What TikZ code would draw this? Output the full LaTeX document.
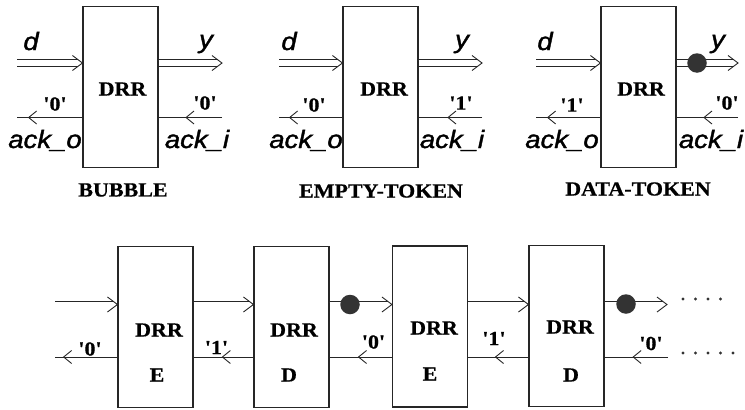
\documentclass[tikz,border=0pt]{standalone}
\usepackage{fontspec}
\setmainfont{Liberation Serif}
\newfontfamily\labfont{Liberation Serif}[FakeBold=0.6]
\newfontfamily\sigfont{Liberation Sans}[FakeBold=1.4]
\usetikzlibrary{arrows.meta,decorations.markings,calc}

\newcommand\wtxt[1]{\scalebox{1.1}[1]{#1}}
% double (bus) connector with an open chevron at its end
\newcommand\dlink[2]{%
  \draw[dshaft] (#1) -- (#2);
  \draw[chev] ([shift={(-10,-7.5)}]#2) -- (#2) -- ([shift={(-10,7.5)}]#2);}

\tikzset{
  x=1pt, y=-1pt,
  unit/.style={draw=black!85, line width=1.1pt, minimum width=75pt,
    minimum height=161pt, inner sep=0pt},
  title/.style={font=\labfont\bfseries\fontsize{20}{20}\selectfont, inner sep=0pt},
  sig/.style={font=\sigfont\itshape\fontsize{25}{25}\selectfont, inner sep=0pt, anchor=base},
  bit/.style={font=\labfont\bfseries\fontsize{20}{20}\selectfont, inner sep=0pt},
  dshaft/.style={draw=black!85, double=white, double distance=6pt,
    line width=0.9pt, shorten >=4pt},
  chev/.style={draw=black!85, line width=0.9pt},
  acklink/.style={draw=black!85, line width=0.9pt, postaction={decorate},
    decoration={markings, mark=at position #1 with
      {\arrow{Straight Barb[length=8pt,width=13pt,line width=0.9pt]}}}},
  token/.style={circle, fill=black!80, minimum size=19.5pt, inner sep=0pt},
  dotm/.style={circle, fill=black!80, minimum size=3.2pt, inner sep=0pt},
}

\begin{document}
\begin{tikzpicture}
\useasboundingbox (0,0) rectangle (745,410);

% signal rows
\coordinate (tD) at (0,63);
\coordinate (tA) at (0,117.5);
\coordinate (bD) at (0,304.5);
\coordinate (bA) at (0,357);

% ---------- BUBBLE ----------
\node[unit] (B1) at (120.5,87) {};
\node[title] (B1t) at (122.5,89) {\wtxt{DRR}};
\node[title] (B1n) at (123,190) {\wtxt{BUBBLE}};
\coordinate (B1dl) at (B1.west |- tD);
\coordinate (B1dr) at (B1.east |- tD);
\coordinate (B1al) at (B1.west |- tA);
\coordinate (B1ar) at (B1.east |- tA);
\coordinate (B1din) at (17,63);
\coordinate (B1dout) at (222,63);
\coordinate (B1aout) at (17,117.5);
\coordinate (B1ain) at (222,117.5);
\dlink{B1din}{B1dl}
\dlink{B1dr}{B1dout}
\draw[acklink=0.833] (B1al) -- (B1aout);
\draw[acklink=0.578] (B1ain) -- (B1ar);
\node[sig] (B1d) at (31,50) {\wtxt{d}};
\node[sig] (B1y) at (206,48) {\wtxt{y}};
\node[sig] (B1ao) at (45,148) {\wtxt{ack\_o}};
\node[sig] (B1ai) at (197,148) {\wtxt{ack\_i}};
\node[bit] (B1bl) at (55,104) {\wtxt{'0'}};
\node[bit] (B1br) at (205,103) {\wtxt{'0'}};

% ---------- EMPTY-TOKEN ----------
\node[unit] (B2) at (380.5,87) {};
\node[title] (B2t) at (384,89) {\wtxt{DRR}};
\node[title] (B2n) at (381,191) {\wtxt{EMPTY-TOKEN}};
\coordinate (B2dl) at (B2.west |- tD);
\coordinate (B2dr) at (B2.east |- tD);
\coordinate (B2al) at (B2.west |- tA);
\coordinate (B2ar) at (B2.east |- tA);
\coordinate (B2din) at (279,63);
\coordinate (B2dout) at (482,63);
\coordinate (B2aout) at (279,117.5);
\coordinate (B2ain) at (482,117.5);
\dlink{B2din}{B2dl}
\dlink{B2dr}{B2dout}
\draw[acklink=0.844] (B2al) -- (B2aout);
\draw[acklink=0.547] (B2ain) -- (B2ar);
\node[sig] (B2d) at (289,50) {\wtxt{d}};
\node[sig] (B2y) at (462,48) {\wtxt{y}};
\node[sig] (B2ao) at (306,148) {\wtxt{ack\_o}};
\node[sig] (B2ai) at (452,148) {\wtxt{ack\_i}};
\node[bit] (B2bl) at (314,105) {\wtxt{'0'}};
\node[bit] (B2br) at (461,103) {\wtxt{'1'}};

% ---------- DATA-TOKEN ----------
\node[unit] (B3) at (638.5,87) {};
\node[title] (B3t) at (641,89) {\wtxt{DRR}};
\node[title] (B3n) at (638,189) {\wtxt{DATA-TOKEN}};
\coordinate (B3dl) at (B3.west |- tD);
\coordinate (B3dr) at (B3.east |- tD);
\coordinate (B3al) at (B3.west |- tA);
\coordinate (B3ar) at (B3.east |- tA);
\coordinate (B3din) at (536,63);
\coordinate (B3dout) at (738,63);
\coordinate (B3aout) at (536,117.5);
\coordinate (B3ain) at (738,117.5);
\dlink{B3din}{B3dl}
\dlink{B3dr}{B3dout}
\node[token] (B3k) at (697,63) {};
\draw[acklink=0.83] (B3al) -- (B3aout);
\draw[acklink=0.565] (B3ain) -- (B3ar);
\node[sig] (B3d) at (545,50) {\wtxt{d}};
\node[sig] (B3y) at (718,48) {\wtxt{y}};
\node[sig] (B3ao) at (562,148) {\wtxt{ack\_o}};
\node[sig] (B3ai) at (711,148) {\wtxt{ack\_i}};
\node[bit] (B3bl) at (572,105) {\wtxt{'1'}};
\node[bit] (B3br) at (727,103) {\wtxt{'0'}};

% ---------- pipeline E D E D ----------
\node[unit] (E1) at (155.5,327) {};
\node[unit] (D1) at (291.5,327) {};
\node[unit] (E2) at (430,326.5) {};
\node[unit] (D2) at (566.5,326) {};
\foreach \u/\tx/\ty/\lx/\ly/\l in {E1/159/330/157/375/E, D1/294/330/289/375/D,
    E2/434/328/430/374/E, D2/570/327/571/375/D}{
  \node[title] (\u t) at (\tx,\ty) {\wtxt{DRR}};
  \node[title] (\u s) at (\lx,\ly) {\wtxt{\l}};
  \coordinate (\u dl) at (\u.west |- bD);
  \coordinate (\u dr) at (\u.east |- bD);
  \coordinate (\u al) at (\u.west |- bA);
  \coordinate (\u ar) at (\u.east |- bA);
}
\coordinate (Pin) at (55,304.5);
\coordinate (Pout) at (667,304.5);
\coordinate (Paout) at (55,357);
\coordinate (Pain) at (668,357);

\dlink{Pin}{E1dl}
\dlink{E1dr}{D1dl}
\dlink{D1dr}{E2dl}
\dlink{E2dr}{D2dl}
\dlink{D2dr}{Pout}
\node[token] (D1k) at (350,304.5) {};
\node[token] (D2k) at (626,304) {};

\draw[acklink=0.873] (E1al) -- (Paout);
\draw[acklink=0.53]  (D1al) -- (E1ar);
\draw[acklink=0.547] (E2al) -- (D1ar);
\draw[acklink=0.557] (D2al) -- (E2ar);
\draw[acklink=0.56]  (Pain) -- (D2ar);

\node[bit] (P0) at (90,349) {\wtxt{'0'}};
\node[bit] (P1) at (216.5,347.5) {\wtxt{'1'}};
\node[bit] (P2) at (373.5,342) {\wtxt{'0'}};
\node[bit] (P3) at (494,338.5) {\wtxt{'1'}};
\node[bit] (P4) at (651,343.5) {\wtxt{'0'}};

% continuation dots
\foreach \x in {683,695.5,708,720.5} \node[dotm] at (\x,299) {};
\foreach \x in {683,695.5,708,720.5,733} \node[dotm] at (\x,353) {};
\end{tikzpicture}
\end{document}
